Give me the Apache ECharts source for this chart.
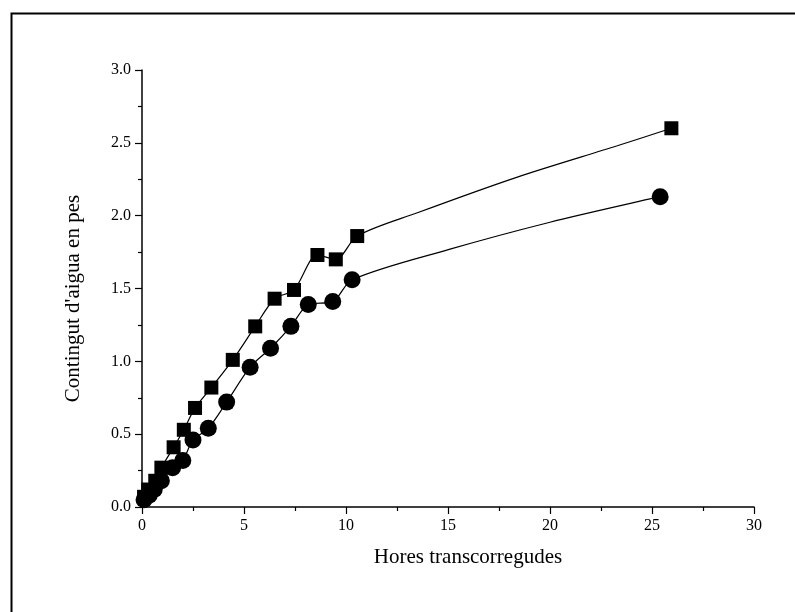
<!DOCTYPE html>
<html>
<head>
<meta charset="utf-8">
<script src="https://cdn.jsdelivr.net/npm/echarts@6/dist/echarts.min.js"></script>
<style>html,body{margin:0;padding:0;background:#fff}#c{width:795px;height:612px}</style>
</head>
<body>
<div id="c"></div>
<script>
var xTitle = "Hores transcorregudes";
var yTitle = "Contingut d'aigua en pes";
var squareX = [0.1, 0.3, 0.65, 0.95, 1.55, 2.05, 2.6, 3.4, 4.45, 5.55, 6.5, 7.45, 8.6, 9.5, 10.55, 25.95];
var squareY = [0.07, 0.12, 0.18, 0.27, 0.41, 0.53, 0.68, 0.82, 1.01, 1.24, 1.43, 1.49, 1.73, 1.70, 1.86, 2.60];
var circleX = [0.1, 0.35, 0.6, 0.95, 1.5, 2.0, 2.5, 3.25, 4.15, 5.3, 6.3, 7.3, 8.15, 9.35, 10.3, 25.4];
var circleY = [0.05, 0.08, 0.12, 0.18, 0.27, 0.32, 0.46, 0.54, 0.72, 0.96, 1.09, 1.24, 1.39, 1.41, 1.56, 2.13];
var squareCurveX = [13.5, 18.4, 23.3];
var squareCurveY = [2.02, 2.265, 2.48];
var circleCurveX = [15.1, 20.0, 24.9];
var circleCurveY = [1.77, 1.955, 2.115];

function pairs(xs, ys) { return xs.map(function (x, i) { return [x, ys[i]]; }); }
function curve(xs, ys, cx, cy) {
  var p = pairs(xs, ys);
  var last = p.pop();
  return p.concat(pairs(cx, cy)).concat([last]);
}

var font = "'Liberation Serif', 'DejaVu Serif', serif";
var chart = echarts.init(document.getElementById('c'), null, {renderer: 'canvas'});
chart.setOption({
  backgroundColor: '#fff',
  animation: false,
  graphic: [{
    type: 'rect', silent: true, z: -1,
    shape: {x: 11.5, y: 13.5, width: 820, height: 640},
    style: {fill: 'none', stroke: '#000', lineWidth: 2}
  }],
  grid: {left: 142, right: 41, top: 70, bottom: 105, containLabel: false},
  xAxis: {
    type: 'value', min: 0, max: 30, interval: 5,
    name: xTitle, nameLocation: 'middle', nameGap: 40,
    nameTextStyle: {fontFamily: font, fontSize: 21, color: '#000', padding: [0, 0, 0, 40]},
    axisLine: {onZero: false, lineStyle: {color: '#000', width: 1.5}},
    axisTick: {show: true, inside: false, length: 7, lineStyle: {color: '#000', width: 1.2}},
    minorTick: {show: true, splitNumber: 2, length: 4, lineStyle: {color: '#000', width: 1.2}},
    splitLine: {show: false},
    axisLabel: {fontFamily: font, fontSize: 16, color: '#000', margin: 11}
  },
  yAxis: {
    type: 'value', min: 0, max: 3, interval: 0.5,
    name: yTitle, nameLocation: 'middle', nameGap: 58, nameRotate: 90,
    nameTextStyle: {fontFamily: font, fontSize: 21, color: '#000', padding: [0, 20, 0, 0]},
    axisLine: {onZero: false, lineStyle: {color: '#000', width: 1.5}},
    axisTick: {show: true, inside: false, length: 7, lineStyle: {color: '#000', width: 1.2}},
    minorTick: {show: true, splitNumber: 2, length: 4, lineStyle: {color: '#000', width: 1.2}},
    splitLine: {show: false},
    axisLabel: {fontFamily: font, fontSize: 16, color: '#000', margin: 11,
      formatter: function (v) { return v.toFixed(1); }}
  },
  series: [
    {
      type: 'line', data: curve(squareX, squareY, squareCurveX, squareCurveY), smooth: 0.3,
      symbol: 'none', lineStyle: {color: '#000', width: 1.2}, z: 1
    },
    {
      type: 'line', data: curve(circleX, circleY, circleCurveX, circleCurveY), smooth: 0.3,
      symbol: 'none', lineStyle: {color: '#000', width: 1.2}, z: 1
    },
    {
      type: 'scatter', data: pairs(squareX, squareY),
      symbol: 'rect', symbolSize: 14, z: 3,
      itemStyle: {color: '#000', borderWidth: 0, opacity: 1}
    },
    {
      type: 'scatter', data: pairs(circleX, circleY),
      symbol: 'circle', symbolSize: 17, z: 3,
      itemStyle: {color: '#000', borderWidth: 0, opacity: 1}
    }
  ]
});
</script>
</body>
</html>
